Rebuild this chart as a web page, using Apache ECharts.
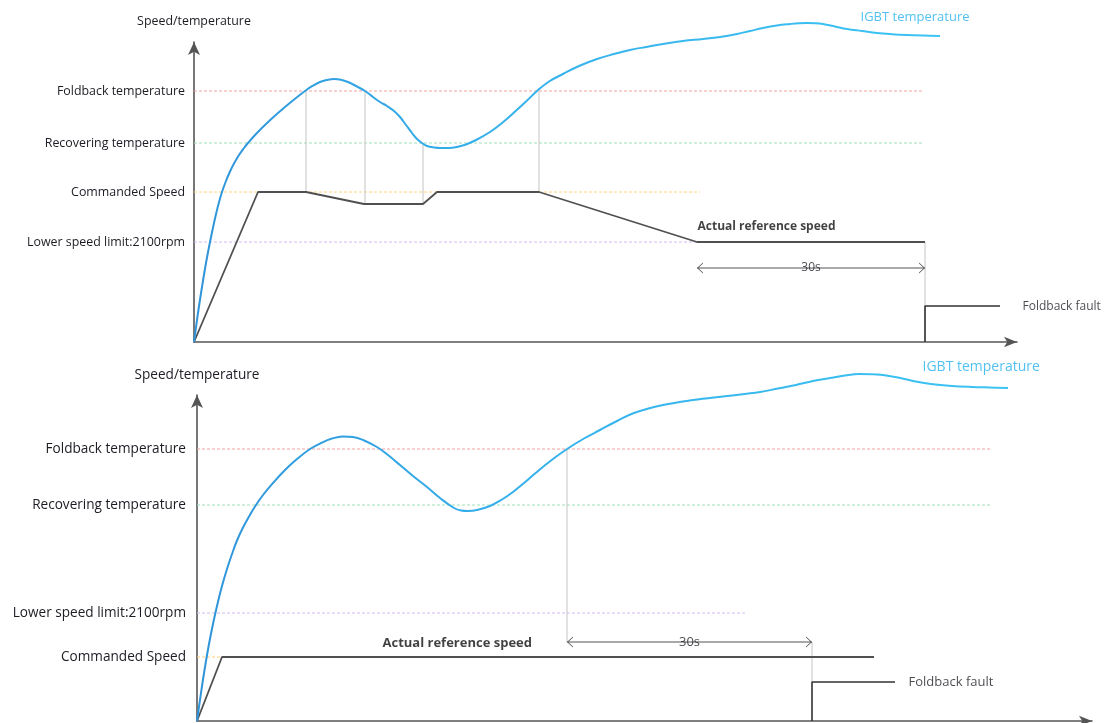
<!DOCTYPE html>
<html><head><meta charset="utf-8">
<script src="https://cdn.jsdelivr.net/npm/echarts@6/dist/echarts.min.js"></script>
<style>html,body{margin:0;padding:0;background:#fff}#c{width:1106px;height:723px}</style>
</head><body><div id="c"></div>
<script>
// ================= DATA : top panel (arbitrary units) =================
const topThresholdNames  = ['Foldback temperature', 'Recovering temperature', 'Commanded Speed', 'Lower speed limit:2100rpm'];
const topThresholdValues = [251, 199, 150, 100];
const topThresholdEnds   = [729, 729, 506, 503];
const topTempX = [0, 4, 8, 12, 16, 20, 24, 28, 32, 36, 40, 45, 50, 54, 62, 72, 84, 97, 111, 118, 126, 133, 140, 147, 154, 162, 171, 179, 186, 193, 200, 206, 212, 218, 223, 228, 233, 240, 247, 255, 263, 272, 283, 296, 308, 320, 332, 343, 355, 369, 385, 403, 420, 436, 452, 469, 489, 509, 526, 543, 556, 569, 583, 596, 605, 613, 621, 629, 641, 653, 668, 683, 698, 713, 730, 746];
const topTempY = [0, 29, 55, 79, 100, 119, 136, 150, 161, 170.5, 178.5, 187, 194, 199, 208, 218, 229, 240, 251, 255.8, 260, 262, 263, 262.3, 260, 256, 251, 245, 240, 236, 231, 225, 217, 209, 203, 199, 196, 194.5, 194, 194, 195, 197.5, 202.5, 210, 219, 229.5, 240.5, 251, 260.5, 268, 276, 283, 288, 292, 295, 298, 301, 303, 305, 308, 311, 314, 316.5, 318, 318.8, 319, 318.8, 318, 315.5, 313, 311, 309, 307.8, 307, 306.4, 306];
const topSpeedX = [0, 64, 112, 170, 229, 243, 345, 503, 731];
const topSpeedY = [0, 150, 150, 138, 138, 150, 150, 100, 100];
const topGuideX    = [112, 171, 229, 345, 731];
const topGuideFrom = [150, 138, 138, 150, 0];
const topGuideTo   = [251, 251, 199, 251, 100];
const topFaultX = [731, 731, 806];
const topFaultY = [0, 36, 36];
const topSpanX = [503, 731];
const topSpanY = 74;
const topSpanText = '30s';
const topNotes = [
  { text: 'Actual reference speed', x: 503, y: 115, kind: 'bold' },
  { text: 'IGBT temperature', x: 666, y: 325, kind: 'temp' },
  { text: 'Foldback fault', x: 828, y: 35, kind: 'plain' }
];

// ================= DATA : bottom panel =================
const botThresholdNames  = ['Foldback temperature', 'Recovering temperature', 'Lower speed limit:2100rpm', 'Commanded Speed'];
const botThresholdValues = [272, 216, 108, 64];
const botThresholdEnds   = [793, 793, 550, 25];
const botTempX = [0, 4, 8, 12, 16, 20, 25, 30, 35, 40, 46, 52, 58, 66, 76, 88, 100, 113, 124, 135, 146, 156, 166, 180, 191, 203, 216, 230, 243, 257, 264, 271, 280, 293, 305, 316, 327, 338, 354, 370, 387, 403, 420, 437, 466, 496, 530, 563, 581, 599, 616, 633, 648, 662, 680, 698, 716, 734, 755, 775, 793, 811];
const botTempY = [0, 28, 54, 77, 97, 115, 135, 152, 167, 180.5, 193.5, 204.5, 214.5, 226, 238, 251, 262, 272, 278, 282.5, 284.5, 284, 281, 274, 266, 256, 245, 234, 223, 213, 210.5, 210, 211, 215, 221.5, 229, 238, 247.5, 260.5, 272, 282.5, 291, 300, 308, 316, 321, 325, 329, 332.5, 336, 340, 343, 345.5, 347, 346.5, 344, 340, 337, 335, 334, 333.5, 333];
const botSpeedX = [0, 25, 677];
const botSpeedY = [0, 64, 64];
const botGuideX    = [370, 615];
const botGuideFrom = [79, 39];
const botGuideTo   = [272, 79];
const botFaultX = [615, 615, 698];
const botFaultY = [0, 39, 39];
const botSpanX = [370, 615];
const botSpanY = 79;
const botSpanText = '30s';
const botNotes = [
  { text: 'Actual reference speed', x: 185, y: 78, kind: 'bold' },
  { text: 'IGBT temperature', x: 725, y: 354, kind: 'temp' },
  { text: 'Foldback fault', x: 711, y: 39, kind: 'plain' }
];

// ================= STYLE =================
const FONT = 'Open Sans';
const TEXT = '#1c1c24';
const thresholdColors = {
  'Foldback temperature': '#f5a3a3',
  'Recovering temperature': '#9fe0bb',
  'Commanded Speed': '#ffd27a',
  'Lower speed limit:2100rpm': '#d4baf2'
};
const chevron = 'path://M0,0L10,8L0,16L0,14.4L8,8L0,1.6Z';

function zip(xs, ys) { return xs.map((x, i) => [x, ys[i]]); }

function panelSeries(idx, p) {
  const s = [];
  p.thNames.forEach((n, i) => {
    s.push({
      type: 'line', xAxisIndex: idx, yAxisIndex: idx, silent: true, clip: false,
      showSymbol: false, symbol: 'none',
      data: [[0, p.thValues[i]], [p.thEnds[i], p.thValues[i]]],
      lineStyle: { color: thresholdColors[n], width: 1, type: [3, 2] }, z: 1
    });
  });
  p.guideX.forEach((x, i) => {
    s.push({
      type: 'line', xAxisIndex: idx, yAxisIndex: idx, silent: true, clip: false,
      showSymbol: false, symbol: 'none',
      data: [[x, p.guideFrom[i]], [x, p.guideTo[i]]],
      lineStyle: { color: '#c4c4c4', width: 1 }, z: 2
    });
  });
  s.push({
    type: 'line', xAxisIndex: idx, yAxisIndex: idx, silent: true, clip: false,
    showSymbol: false, symbol: 'none', smooth: 0.4,
    data: zip(p.tempX, p.tempY),
    lineStyle: {
      width: 2,
      color: new echarts.graphic.LinearGradient(0, 0, 1, 0, [
        { offset: 0, color: '#2f93d8' }, { offset: 0.35, color: '#34aeea' }, { offset: 1, color: '#3cc4f3' }
      ])
    }, z: 4
  });
  s.push({
    type: 'line', xAxisIndex: idx, yAxisIndex: idx, silent: true, clip: false,
    showSymbol: false, symbol: 'none',
    data: zip(p.speedX, p.speedY),
    lineStyle: { color: '#505050', width: 1.8 }, z: 3
  });
  s.push({
    type: 'line', xAxisIndex: idx, yAxisIndex: idx, silent: true, clip: false,
    showSymbol: false, symbol: 'none',
    data: zip(p.faultX, p.faultY),
    lineStyle: { color: '#333', width: 1.6 }, z: 3
  });
  s.push({
    type: 'line', xAxisIndex: idx, yAxisIndex: idx, silent: true, clip: false,
    showSymbol: true, showAllSymbol: true,
    data: [
      { value: [p.spanX[0], p.spanY], symbol: chevron, symbolSize: [6, 11], symbolRotate: 180, symbolOffset: [3, 0] },
      { value: [p.spanX[1], p.spanY], symbol: chevron, symbolSize: [6, 11], symbolRotate: 0, symbolOffset: [-3, 0] }
    ],
    itemStyle: { color: '#555' },
    lineStyle: { color: '#555', width: 1.2 }, z: 3
  });
  s.push({
    type: 'scatter', xAxisIndex: idx, yAxisIndex: idx, silent: true, clip: false,
    symbolSize: 1, itemStyle: { color: 'rgba(0,0,0,0)' },
    data: [{ value: [(p.spanX[0] + p.spanX[1]) / 2, p.spanY] }],
    label: { show: true, position: 'inside', formatter: p.spanText, fontFamily: FONT, fontSize: p.fs, color: TEXT }, z: 5
  });
  s.push({
    type: 'scatter', xAxisIndex: idx, yAxisIndex: idx, silent: true, clip: false,
    symbolSize: 1, itemStyle: { color: 'rgba(0,0,0,0)' },
    data: p.notes.map(n => ({
      value: [n.x, n.y],
      label: {
        show: true, position: 'right', distance: 0, formatter: n.text,
        fontFamily: FONT, fontSize: n.kind === 'temp' ? p.fs + 1 : p.fs,
        fontWeight: n.kind === 'bold' ? 'bold' : 'normal',
        color: n.kind === 'temp' ? '#27b1ee' : (n.kind === 'bold' ? '#111' : TEXT)
      }
    })),
    z: 5
  });
  return s;
}

function yAxisFor(idx, max, names, values, fs, margin, gap) {
  return {
    type: 'value', gridIndex: idx, min: 0, max: max,
    name: 'Speed/temperature', nameLocation: 'end', nameGap: gap,
    nameTextStyle: { fontFamily: FONT, fontSize: fs, color: TEXT, align: 'center' },
    axisLine: { show: true, symbol: ['none', 'arrow'], symbolSize: [9, 13], lineStyle: { color: '#555', width: 1.6 } },
    axisTick: { show: false },
    splitLine: { show: false },
    axisLabel: {
      show: true, customValues: values, margin: margin,
      formatter: v => { const i = values.indexOf(v); return i >= 0 ? names[i] : ''; },
      fontFamily: FONT, fontSize: fs, color: TEXT
    }
  };
}
function xAxisFor(idx, max) {
  return {
    type: 'value', gridIndex: idx, min: 0, max: max,
    axisLine: { show: true, onZero: false, symbol: ['none', 'arrow'], symbolSize: [8, 13], lineStyle: { color: '#555', width: 1.6 } },
    axisTick: { show: false }, axisLabel: { show: false }, splitLine: { show: false }
  };
}

const chart = echarts.init(document.getElementById('c'), null, { renderer: 'canvas' });
chart.setOption({
  animation: false,
  backgroundColor: '#fff',
  grid: [
    { left: 194, top: 42, width: 823, height: 300 },
    { left: 197, top: 395, width: 895, height: 326 }
  ],
  xAxis: [xAxisFor(0, 823), xAxisFor(1, 895)],
  yAxis: [
    yAxisFor(0, 300, topThresholdNames, topThresholdValues, 12.4, 9, 15),
    yAxisFor(1, 326, botThresholdNames, botThresholdValues, 13.6, 11, 13)
  ],
  series: [].concat(
    panelSeries(0, {
      thNames: topThresholdNames, thValues: topThresholdValues, thEnds: topThresholdEnds,
      guideX: topGuideX, guideFrom: topGuideFrom, guideTo: topGuideTo,
      tempX: topTempX, tempY: topTempY, speedX: topSpeedX, speedY: topSpeedY,
      faultX: topFaultX, faultY: topFaultY, spanX: topSpanX, spanY: topSpanY, spanText: topSpanText,
      notes: topNotes, fs: 12
    }),
    panelSeries(1, {
      thNames: botThresholdNames, thValues: botThresholdValues, thEnds: botThresholdEnds,
      guideX: botGuideX, guideFrom: botGuideFrom, guideTo: botGuideTo,
      tempX: botTempX, tempY: botTempY, speedX: botSpeedX, speedY: botSpeedY,
      faultX: botFaultX, faultY: botFaultY, spanX: botSpanX, spanY: botSpanY, spanText: botSpanText,
      notes: botNotes, fs: 13
    })
  )
});
</script>
</body></html>
